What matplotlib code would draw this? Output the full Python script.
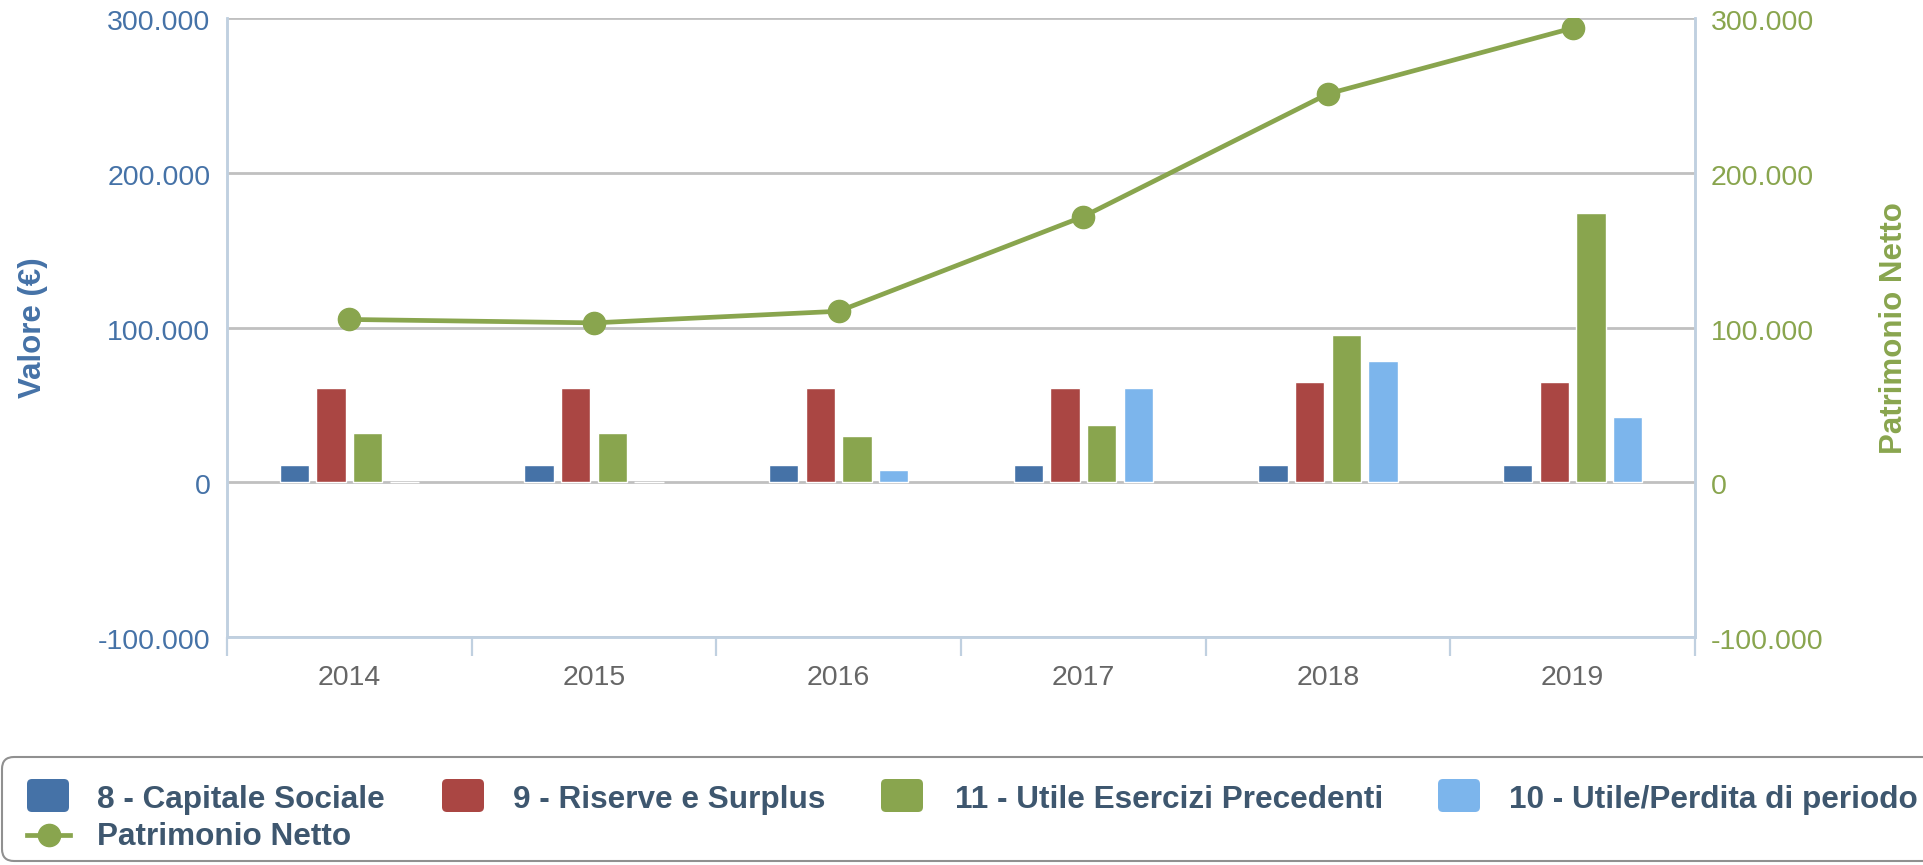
import matplotlib
matplotlib.use("Agg")
import matplotlib.pyplot as plt
import matplotlib.transforms as mtransforms
from matplotlib.patches import FancyBboxPatch
from matplotlib.ticker import FuncFormatter
import numpy as np

FONT_NAME = "Liberation Sans"

years = ["2014", "2015", "2016", "2017", "2018", "2019"]
capitale_sociale = [11200, 11200, 11200, 11200, 11200, 11200]
riserve_surplus = [61100, 61100, 61200, 61200, 64600, 64600]
utile_precedenti = [31800, 31800, 30000, 36900, 95300, 174200]
utile_periodo = [0, 0, 7700, 61200, 78100, 42100]
patrimonio_netto = [105200, 103000, 110500, 171700, 251000, 293500]

series_names = [
    "8 - Capitale Sociale",
    "9 - Riserve e Surplus",
    "11 - Utile Esercizi Precedenti",
    "10 - Utile/Perdita di periodo",
]
line_name = "Patrimonio Netto"

BLUE = "#4572A7"
RED = "#AA4643"
GREEN = "#89A54E"
LIGHT_BLUE = "#7CB5EC"
GRID = "#C0C0C0"
AXIS = "#C0D0E0"
LEGEND_TEXT = "#3E576F"

W, H = 1924, 865
plt.rcParams["font.family"] = [FONT_NAME, "DejaVu Sans"]

fig = plt.figure(figsize=(W / 100, H / 100), dpi=100)
ax = fig.add_axes([227 / W, 1 - 637 / H, (1695 - 227) / W, (637 - 18) / H])
ax2 = ax.twinx()

x = np.arange(len(years))
pitch = 0.15
bar_w = 0.12
colors = [BLUE, RED, GREEN, LIGHT_BLUE]
all_series = [capitale_sociale, riserve_surplus, utile_precedenti, utile_periodo]
for i, (vals, col) in enumerate(zip(all_series, colors)):
    ax.bar(x + (i - 1.5) * pitch, vals, width=bar_w, color=col,
           edgecolor="white", linewidth=1.0, zorder=2)

ax2.plot(x, patrimonio_netto, color=GREEN, linewidth=3.4, marker="o",
         markersize=16, zorder=3, solid_capstyle="round")

fmt = FuncFormatter(lambda v, p: f"{int(v):,}".replace(",", "."))
for a in (ax, ax2):
    a.set_ylim(-100000, 300000)
    a.set_yticks([-100000, 0, 100000, 200000, 300000])
    a.yaxis.set_major_formatter(fmt)
    a.set_xlim(-0.5, len(years) - 0.5)

ax.grid(axis="y", color=GRID, linewidth=2)
ax.set_axisbelow(True)

ax.tick_params(axis="y", length=0, pad=12, labelsize=20.5, labelcolor=BLUE)
ax2.tick_params(axis="y", length=0, pad=11.5, labelsize=20.5, labelcolor=GREEN)

# x axis: ticks between categories, labels at centres
ax.set_xticks(np.arange(-0.5, len(years), 1))
ax.set_xticklabels([])
ax.tick_params(axis="x", which="major", length=13.7, width=1.6, color=AXIS)
ax.set_xticks(x, minor=True)
ax.set_xticklabels(years, minor=True)
ax.tick_params(axis="x", which="minor", length=0, pad=20, labelsize=20.5,
               labelcolor="#666666")

ax.spines["top"].set_visible(False)
ax2.spines["top"].set_visible(False)
for a in (ax, ax2):
    for side in ("left", "right", "bottom"):
        a.spines[side].set_color(AXIS)
        a.spines[side].set_linewidth(1.8)

# shift y labels down a bit like the original
offset = mtransforms.ScaledTranslation(0, -2 / 100, fig.dpi_scale_trans)
for a in (ax, ax2):
    for lab in a.get_yticklabels():
        lab.set_transform(lab.get_transform() + offset)

fig.text(33 / W, 1 - 328 / H, "Valore (€)", rotation=90, ha="center", va="center",
         fontsize=22.5, fontweight="bold", color=BLUE)
fig.text(1894 / W, 1 - 328 / H, line_name, rotation=90, ha="center", va="center",
         fontsize=22.5, fontweight="bold", color=GREEN)

# legend drawn in pixel space
lg = fig.add_axes([0, 0, 1, 1])
lg.set_xlim(0, W)
lg.set_ylim(H, 0)
lg.axis("off")
lg.add_patch(FancyBboxPatch((2, 757), 1960, 104,
                            boxstyle="round,pad=0,rounding_size=12",
                            facecolor="white", edgecolor="#909090", linewidth=1.5))

box_x = [27, 442, 881, 1438]
text_x = [97, 513, 955, 1509]
for bx, tx, col, name in zip(box_x, text_x, colors, series_names):
    lg.add_patch(FancyBboxPatch((bx, 779), 42, 33,
                                boxstyle="round,pad=0,rounding_size=5",
                                facecolor=col, edgecolor="none"))
    lg.text(tx, 808, name, ha="left", va="baseline", fontsize=22.7,
            fontweight="bold", color=LEGEND_TEXT)

lg.plot([27, 70], [835, 835], color=GREEN, linewidth=3.4)
lg.plot([49], [835], marker="o", markersize=16, color=GREEN)
lg.text(97, 845, line_name, ha="left", va="baseline", fontsize=22.7,
        fontweight="bold", color=LEGEND_TEXT)

fig.savefig("out.png", dpi=100)
